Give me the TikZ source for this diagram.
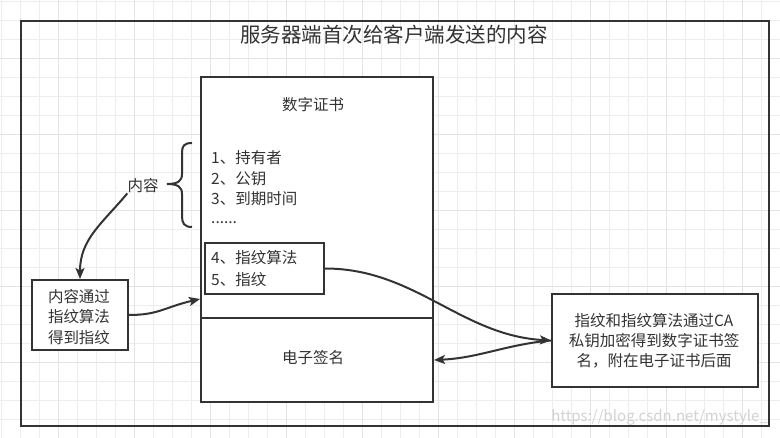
\documentclass[tikz,border=0pt]{standalone}
\usepackage{fontspec}
\setmainfont{Noto Sans CJK SC}
\usetikzlibrary{arrows.meta,calc}
\definecolor{ink}{HTML}{333333}
\definecolor{gridc}{HTML}{EDEDED}
\definecolor{gridm}{HTML}{E3E3E3}
\tikzset{
  box/.style={draw=ink, line width=2pt, fill=white, inner sep=0pt, anchor=north west},
  txt/.style={text=ink, font=\fontsize{15.5}{20.5}\selectfont, inner sep=0pt},
  arr/.style={draw=ink, line width=2pt, -{Stealth[length=11pt,width=9pt,inset=2.5pt]}},
  gline/.style={draw=gridc, line width=0.8pt},
  gmajor/.style={draw=gridm, line width=1pt}
}
\begin{document}
\begin{tikzpicture}[x=1pt,y=-1pt]
\path[use as bounding box, fill=white] (0,0) rectangle (780,438);
% grid
\foreach \i in {0,...,41} {\draw[gline] ({1.5+19*\i},0) -- ({1.5+19*\i},438);}
\foreach \j in {0,...,23} {\draw[gline] (0,{1.5+19*\j}) -- (780,{1.5+19*\j});}
\foreach \i in {0,...,10} {\draw[gmajor] ({58.5+76*\i},0) -- ({58.5+76*\i},438);}
\foreach \j in {0,...,5} {\draw[gmajor] (0,{58.5+76*\j}) -- (780,{58.5+76*\j});}
% outer frame
\node (outer) [box, fill=none, minimum width=748pt, minimum height=405pt] at (20,20) {};
\node (title) [txt, font=\fontsize{20.5}{24}\selectfont] at (394,35) {服务器端首次给客户端发送的内容};
% certificate
\node (certtop) [box, minimum width=232pt, minimum height=241pt] at (200,76) {};
\node (sig) [box, minimum width=232pt, minimum height=84pt] at (200,317) {};
\node (certtitle) [txt] at (313,105) {数字证书};
\node (l1) [txt, anchor=west] at (211,158) {1、持有者};
\node (l2) [txt, anchor=west] at (211,179) {2、公钥};
\node (l3) [txt, anchor=west] at (211,199) {3、到期时间};
\node (l4) [txt, anchor=base west] at (211,224) {......};
\node (fp) [box, minimum width=119pt, minimum height=51pt] at (204,242) {};
\node (fp1) [txt, anchor=west] at (211,258) {4、指纹算法};
\node (fp2) [txt, anchor=west] at (211,280) {5、指纹};
\node (sigtext) [txt] at (313,358) {电子签名};
% brace and label
\draw[ink, line width=2pt] (192,143) .. controls (184,143) and (182,146) .. (182,153) -- (182,174)
  .. controls (182,181) and (178,184) .. (167,184) .. controls (178,184) and (182,187) .. (182,194)
  -- (182,216) .. controls (182,223) and (184,227) .. (192,227);
\node (nr) [txt] at (143,186) {内容};
% left box
\node (lb) [box, minimum width=96pt, minimum height=70pt] at (31,279) {};
\node (lbt) [txt, align=center] at (79,317) {内容通过\\指纹算法\\得到指纹};
% right box
\node (rb) [box, minimum width=206pt, minimum height=93pt] at (551,293) {};
\node (rbt) [txt, align=center, font=\fontsize{15.5}{20}\selectfont] at (654,341) {指纹和指纹算法通过CA\\私钥加密得到数字证书签\\名，附在电子证书后面};
% watermark
\node (wm) [text=gray!35, font=\fontsize{15}{18}\selectfont, inner sep=0pt, anchor=east] at (768,417) {https://blog.csdn.net/mystyle\_};
% connectors
\coordinate (certin) at ($(certtop.south west)+(0,-20)$);
\draw[arr] (nr.south west) .. controls +(-25,30) and +(0,-40) .. (lb.north);
\draw[arr] (lb.east) .. controls +(30,0) and +(-35,8) .. (certin);
\draw[arr] (fp.east) .. controls +(90,0) and +(-90,-5) .. (rb.west);
\draw[arr] (rb.west) .. controls +(-45,4) and +(45,-2) .. (sig.east);
\end{tikzpicture}
\end{document}
